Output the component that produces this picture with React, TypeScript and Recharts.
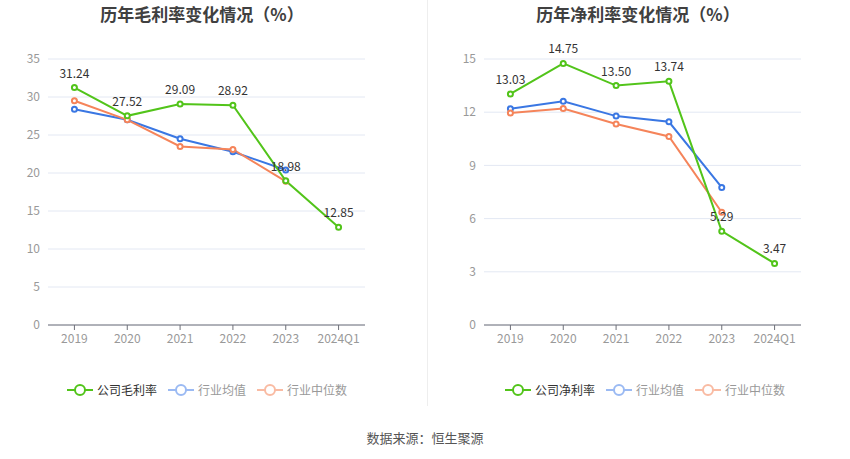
import React from "react";
import { LineChart, Line, XAxis, YAxis, CartesianGrid, LabelList } from "recharts";

const categories = ["2019", "2020", "2021", "2022", "2023", "2024Q1"];

const grossCompany = [31.24, 27.52, 29.09, 28.92, 18.98, 12.85];
const grossIndustryAvg = [28.4, 27.0, 24.5, 22.8, 20.4, null];
const grossIndustryMedian = [29.5, 27.0, 23.5, 23.1, 18.9, null];

const netCompany = [13.03, 14.75, 13.5, 13.74, 5.29, 3.47];
const netIndustryAvg = [12.19, 12.62, 11.78, 11.46, 7.76, null];
const netIndustryMedian = [11.96, 12.21, 11.33, 10.63, 6.36, null];

const grossTicks = [0, 5, 10, 15, 20, 25, 30, 35];
const netTicks = [0, 3, 6, 9, 12, 15];

const GREEN = "#52c41a";
const BLUE = "#3a77e3";
const ORANGE = "#f5845a";
const FONT = "'Noto Sans CJK SC', 'Noto Sans', sans-serif";

function buildRows(company: (number | null)[], avg: (number | null)[], med: (number | null)[]) {
  return categories.map((c, i) => ({ cat: c, company: company[i], avg: avg[i], med: med[i] }));
}

const grossData = buildRows(grossCompany, grossIndustryAvg, grossIndustryMedian);
const netData = buildRows(netCompany, netIndustryAvg, netIndustryMedian);

function LegendIcon({ color }: { color: string }) {
  return (
    <svg width={26} height={14} style={{ display: "block" }}>
      <line x1={0} y1={7} x2={26} y2={7} stroke={color} strokeWidth={2} />
      <circle cx={13} cy={7} r={5} fill="#fff" stroke={color} strokeWidth={2} />
    </svg>
  );
}

function Legend({ left, companyName }: { left: number; companyName: string }) {
  const items = [
    { name: companyName, icon: GREEN, text: "#333" },
    { name: "行业均值", icon: "#9bbaf3", text: "#999" },
    { name: "行业中位数", icon: "#f9bba3", text: "#999" },
  ];
  return (
    <div
      style={{
        position: "absolute",
        top: 383,
        left,
        display: "flex",
        alignItems: "center",
        fontFamily: FONT,
        fontSize: 12,
        lineHeight: "14px",
        whiteSpace: "nowrap",
      }}
    >
      {items.map((it, i) => (
        <div key={i} style={{ display: "flex", alignItems: "center", marginRight: 11 }}>
          <LegendIcon color={it.icon} />
          <span style={{ color: it.text, marginLeft: 4 }}>{it.name}</span>
        </div>
      ))}
    </div>
  );
}

function Panel({
  data,
  ticks,
  max,
  left,
  title,
}: {
  data: any[];
  ticks: number[];
  max: number;
  left: number;
  title: string;
}) {
  return (
    <div style={{ position: "absolute", left, top: 0, width: 425, height: 459 }}>
      <div
        style={{
          position: "absolute",
          top: 2,
          left: 0,
          width: 404,
          textAlign: "center",
          fontFamily: FONT,
          fontSize: 17,
          fontWeight: "bold",
          color: "#404040",
          lineHeight: "24px",
        }}
      >
        {title}
      </div>
      <LineChart
        width={425}
        height={459}
        data={data}
        margin={{ top: 59, right: 60, left: 0, bottom: 104 }}
        style={{ position: "absolute", top: 0, left: 0 }}
      >
        <CartesianGrid vertical={false} stroke="#e3e8f3" strokeWidth={1} />
        <XAxis
          dataKey="cat"
          scale="band"
          axisLine={{ stroke: "#6e7079" }}
          tickLine={{ stroke: "#6e7079" }}
          tickSize={5}
          tickMargin={4}
          tick={{ fill: "#999", fontSize: 12, fontFamily: FONT }}
          height={30}
          interval={0}
        />
        <YAxis
          domain={[0, max]}
          ticks={ticks}
          axisLine={false}
          tickLine={false}
          width={48}
          tick={{ fill: "#999", fontSize: 12, fontFamily: FONT }}
          interval={0}
        />
        <Line
          dataKey="avg"
          stroke={BLUE}
          strokeWidth={2}
          dot={{ r: 2.5, fill: "#fff", stroke: BLUE, strokeWidth: 2 }}
          isAnimationActive={false}
          connectNulls={false}
        />
        <Line
          dataKey="med"
          stroke={ORANGE}
          strokeWidth={2}
          dot={{ r: 2.5, fill: "#fff", stroke: ORANGE, strokeWidth: 2 }}
          isAnimationActive={false}
          connectNulls={false}
        />
        <Line
          dataKey="company"
          stroke={GREEN}
          strokeWidth={2}
          dot={{ r: 2.5, fill: "#fff", stroke: GREEN, strokeWidth: 2 }}
          isAnimationActive={false}
        >
          <LabelList
            dataKey="company"
            position="top"
            offset={10}
            fill="#333"
            fontSize={12}
            fontFamily={FONT}
            formatter={(v: any) => Number(v).toFixed(2)}
          />
        </Line>
      </LineChart>
    </div>
  );
}

export default function App() {
  return (
    <div
      style={{
        position: "absolute",
        left: 0,
        top: 0,
        width: 850,
        height: 459,
        background: "#fff",
        overflow: "hidden",
      }}
    >
      <Panel data={grossData} ticks={grossTicks} max={35} left={0} title="历年毛利率变化情况（%）" />
      <Panel data={netData} ticks={netTicks} max={15} left={436} title="历年净利率变化情况（%）" />
      <div style={{ position: "absolute", left: 427, top: 0, width: 1, height: 406, background: "#eeeeee" }} />
      <Legend left={67} companyName="公司毛利率" />
      <Legend left={505} companyName="公司净利率" />
      <div
        style={{
          position: "absolute",
          top: 429,
          left: 0,
          width: 850,
          textAlign: "center",
          fontFamily: FONT,
          fontSize: 13,
          color: "#555",
          lineHeight: "18px",
        }}
      >
        数据来源：恒生聚源
      </div>
    </div>
  );
}
